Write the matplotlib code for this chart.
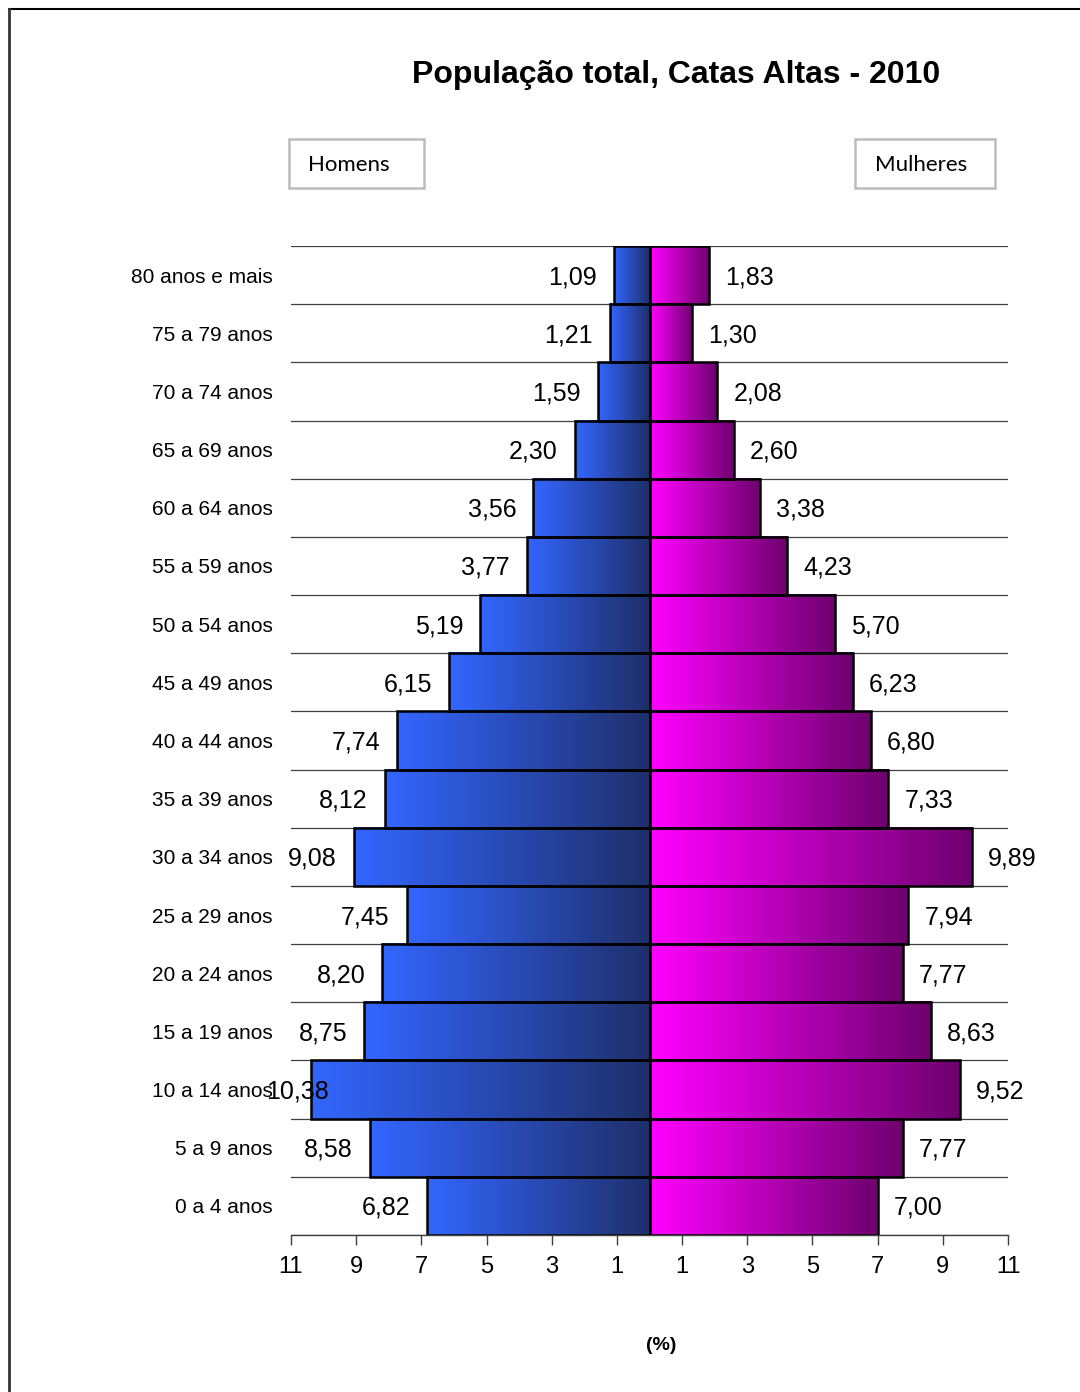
import numpy as np
import matplotlib.pyplot as plt
from matplotlib.colors import LinearSegmentedColormap
from matplotlib.lines import Line2D
from matplotlib.patches import Rectangle
from matplotlib.transforms import offset_copy

plt.rcParams['font.family'] = ['Liberation Sans', 'DejaVu Sans']

# age groups, bottom to top
faixas = ["0 a 4 anos", "5 a 9 anos", "10 a 14 anos", "15 a 19 anos", "20 a 24 anos",
          "25 a 29 anos", "30 a 34 anos", "35 a 39 anos", "40 a 44 anos", "45 a 49 anos",
          "50 a 54 anos", "55 a 59 anos", "60 a 64 anos", "65 a 69 anos", "70 a 74 anos",
          "75 a 79 anos", "80 anos e mais"]
homens = [6.82, 8.58, 10.38, 8.75, 8.20, 7.45, 9.08, 8.12, 7.74, 6.15,
          5.19, 3.77, 3.56, 2.30, 1.59, 1.21, 1.09]
mulheres = [7.00, 7.77, 9.52, 8.63, 7.77, 7.94, 9.89, 7.33, 6.80, 6.23,
            5.70, 4.23, 3.38, 2.60, 2.08, 1.30, 1.83]
ticks = [-11, -9, -7, -5, -3, -1, 1, 3, 5, 7, 9, 11]

cmap_h = LinearSegmentedColormap.from_list("h", ["#3366ff", "#1e2f6a"])
cmap_m = LinearSegmentedColormap.from_list("m", ["#ff00ff", "#6e006e"])
grad = np.linspace(0, 1, 256).reshape(1, -1)

W, H = 1080, 1392
fig = plt.figure(figsize=(W / 100, H / 100), dpi=100)
ax = fig.add_axes([291 / W, 1 - 1235 / H, 717 / W, 989 / H])

y = np.arange(len(faixas))

# row separators
for b in np.arange(len(faixas) + 1) - 0.5:
    ax.axhline(b, color="#404040", lw=0.9, zorder=1)

ax.barh(y, [-v for v in homens], height=1.0, facecolor="none",
        edgecolor="black", lw=1.8, zorder=4)
ax.barh(y, mulheres, height=1.0, facecolor="none",
        edgecolor="black", lw=1.8, zorder=4)

# gradient fill, one per bar
for yi, v in zip(y, homens):
    ax.imshow(grad, cmap=cmap_h, aspect="auto", extent=(-v, 0, yi - 0.5, yi + 0.5),
              zorder=3, interpolation="bicubic")
for yi, v in zip(y, mulheres):
    ax.imshow(grad, cmap=cmap_m, aspect="auto", extent=(0, v, yi - 0.5, yi + 0.5),
              zorder=3, interpolation="bicubic")
ax.set_xlim(-11, 11)
ax.set_ylim(-0.5, len(faixas) - 0.5)

def fmt(v):
    return f"{v:.2f}".replace(".", ",")

for yi, v in zip(y, homens):
    # the widest bar pushes its label back inside (as in the original)
    dx = 18 if v > 10 else -17
    tr = offset_copy(ax.transData, fig=fig, x=dx, y=-2, units="dots")
    ax.text(-v, yi, fmt(v), transform=tr, ha="right", va="center", fontsize=18, zorder=6)
for yi, v in zip(y, mulheres):
    tr = offset_copy(ax.transData, fig=fig, x=16, y=-2, units="dots")
    ax.text(v, yi, fmt(v), transform=tr, ha="left", va="center", fontsize=18, zorder=6)

ax.set_yticks(y)
ax.set_yticklabels(faixas, fontsize=15)
ax.tick_params(axis="y", length=0, pad=13)
ax.set_xticks(ticks)
ax.set_xticklabels([str(abs(t)) for t in ticks], fontsize=17)
ax.tick_params(axis="x", direction="out", length=7, width=1, color="#404040", pad=8)

for s in ["top", "right", "left"]:
    ax.spines[s].set_visible(False)
ax.spines["bottom"].set_color("#404040")
ax.spines["bottom"].set_linewidth(1)
ax.spines["bottom"].set_zorder(5)

fig.text(676 / W, 1 - 75 / H, "População total, Catas Altas - 2010",
         ha="center", va="center", fontsize=23, fontweight="bold")
fig.text(661 / W, 1 - 1345 / H, "(%)", ha="center", va="center",
         fontsize=14, fontweight="bold")

# legend-like boxes
for (x0, x1, tx, label) in [(289, 424, 349, "Homens"), (855, 995, 921, "Mulheres")]:
    fig.add_artist(Rectangle((x0 / W, 1 - 188 / H), (x1 - x0) / W, 49 / H,
                             transform=fig.transFigure, facecolor="white",
                             edgecolor="#bcbcbc", lw=1.8))
    fig.text(tx / W, 1 - 165 / H, label, ha="center", va="center",
             fontsize=16, family=["Lato", "DejaVu Sans"])

# outer frame (top and left edges)
fig.add_artist(Line2D([9 / W, 1.0], [1 - 9 / H] * 2, color="black", lw=1.5,
                      transform=fig.transFigure))
fig.add_artist(Line2D([9 / W] * 2, [0, 1 - 9 / H], color="#333333", lw=2,
                      transform=fig.transFigure))

fig.savefig("out.png", dpi=100)
